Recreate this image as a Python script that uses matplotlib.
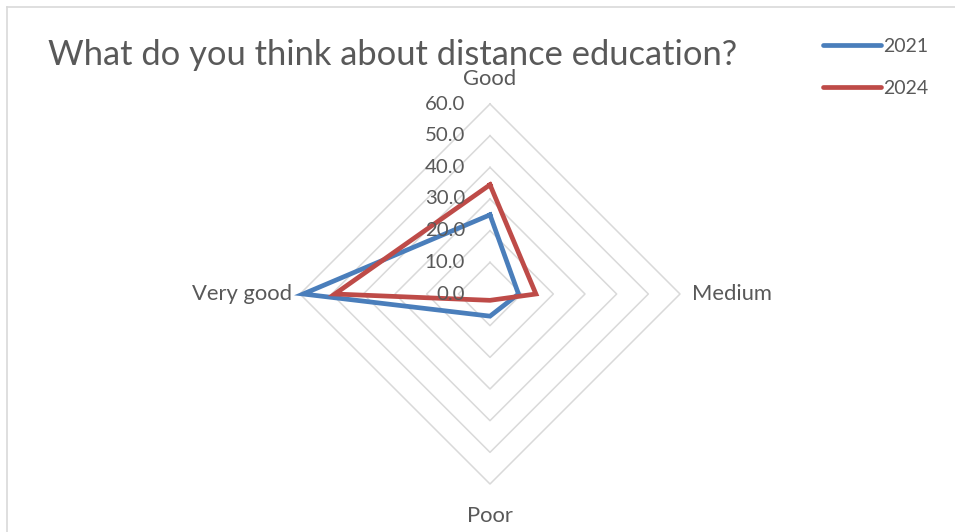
import numpy as np
import matplotlib
matplotlib.use("Agg")
import matplotlib.pyplot as plt
from matplotlib.lines import Line2D
import matplotlib.transforms as mtransforms

plt.rcParams['font.family'] = ['Lato', 'DejaVu Sans']

# ---- data ----
categories = ["Good", "Medium", "Poor", "Very good"]
series_names = ["2021", "2024"]
values_2021 = [25, 9, 7, 59]
values_2024 = [34.5, 14.5, 2, 49]
r_ticks = [0, 10, 20, 30, 40, 50, 60]
r_tick_labels = ["0.0", "10.0", "20.0", "30.0", "40.0", "50.0", "60.0"]
title = "What do you think about distance education?"

colors = ["#4A7EBB", "#BE4B48"]
text_grey = "#595959"
grid_grey = "#D9D9D9"

W, H = 955, 532
fig = plt.figure(figsize=(W / 100, H / 100), dpi=100)

cx, cy, R = 490, 294, 190
ax = fig.add_axes([(cx - R) / W, (H - cy - R) / H, 2 * R / W, 2 * R / H],
                  projection='polar')
ax.set_theta_zero_location('N')
ax.set_theta_direction(-1)
ax.set_ylim(0, 60)
ax.grid(False)
ax.spines['polar'].set_visible(False)
ax.set_xticks([])
ax.set_yticks([])
ax.patch.set_alpha(0)

n = len(categories)
theta = np.arange(n) * 2 * np.pi / n
theta_closed = np.concatenate([theta, theta[:1]])

# polygon gridlines
for r in r_ticks[1:]:
    ax.plot(theta_closed, [r] * (n + 1), color=grid_grey, lw=1.1, zorder=1,
            clip_on=False)

# series
for vals, col, name in zip([values_2021, values_2024], colors, series_names):
    v = np.array(vals + vals[:1], dtype=float)
    ax.plot(theta_closed, v, color=col, lw=3.4, solid_joinstyle='miter',
            zorder=3, label=name, clip_on=False)

# radial tick labels
off = mtransforms.offset_copy(ax.transData, fig=fig, x=-25, y=0, units='dots')
for r, lab in zip(r_ticks, r_tick_labels):
    ax.text(0, r, lab, transform=off, ha='right', va='center',
            fontsize=14.7, color=text_grey, zorder=4)

# category labels
label_offsets = [(0, 11), (9, 0), (0, -16), (-6, 0)]
aligns = [('center', 'bottom'), ('left', 'center'), ('center', 'top'), ('right', 'center')]
for t, cat, (dx, dy), (ha, va) in zip(theta, categories, label_offsets, aligns):
    tr = mtransforms.offset_copy(ax.transData, fig=fig, x=dx, y=dy, units='points')
    ax.text(t, 60, cat, transform=tr, ha=ha, va=va, fontsize=15.8, color=text_grey)

# title
fig.text(48 / W, 1 - 55 / H, title, ha='left', va='center', fontsize=24.8,
         color=text_grey)

# legend
leg = fig.legend(loc='upper left', bbox_to_anchor=(805 / W, 1 - 20 / H),
                 frameon=False, fontsize=14, handlelength=3.0,
                 handletextpad=0.1, labelspacing=1.3, labelcolor=text_grey)
for h in leg.get_lines():
    h.set_linewidth(3.4)
    h.set_solid_capstyle('round')

# chart frame
fig.add_artist(Line2D([7 / W, 1], [1 - 7 / H, 1 - 7 / H], color="#D9D9D9", lw=1.2))
fig.add_artist(Line2D([7 / W, 7 / W], [0, 1 - 7 / H], color="#D9D9D9", lw=1.2))

fig.savefig("out.png", dpi=100)
